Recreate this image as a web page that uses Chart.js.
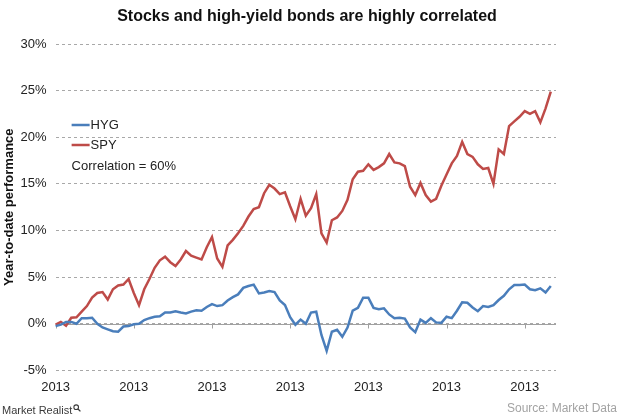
<!DOCTYPE html>
<html>
<head>
<meta charset="utf-8">
<script src="https://cdn.jsdelivr.net/npm/chart.js@4.4.1/dist/chart.umd.min.js"></script>
<style>
  body { margin: 0; background: #fff; }
  .wrap { position: relative; width: 620px; height: 420px; font-family: "Liberation Sans", Arial, sans-serif; }
  .title { position: absolute; left: 0; top: 6px; width: 614px; text-align: center; font-size: 16px; line-height: 20px; font-weight: bold; color: #111; }
  .brand { position: absolute; left: 2px; top: 404px; font-size: 11px; color: #3a3a3a; }
  .brand svg { vertical-align: top; margin-left: 1px; }
  .source { position: absolute; right: 3px; top: 401px; font-size: 12px; color: #a3a3a3; }
</style>
</head>
<body>
<div class="wrap">
  <canvas id="chart" width="620" height="420"></canvas>
  <div class="title">Stocks and high-yield bonds are highly correlated</div>
  <div class="brand">Market Realist<svg width="8" height="8" viewBox="0 0 8 8"><circle cx="3.2" cy="3.2" r="2.3" fill="none" stroke="#3a3a3a" stroke-width="1.1"/><line x1="5" y1="5" x2="7.4" y2="7.4" stroke="#3a3a3a" stroke-width="1.3"/></svg></div>
  <div class="source">Source: Market Data</div>
</div>
<script>
const tickLabel = '2013'
const pointsPerTick = 15
const yTicks = [-5, 0, 5, 10, 15, 20, 25, 30]

// year-to-date performance, %
const hyg = [
  -0.25, -0.1, 0.2, 0.2, 0.0, 0.6, 0.6, 0.65, 0.0, -0.4,
  -0.6, -0.8, -0.85, -0.3, -0.25, -0.05, 0.0, 0.4, 0.6, 0.75,
  0.8, 1.2, 1.2, 1.35, 1.2, 1.1, 1.3, 1.45, 1.4, 1.8,
  2.1, 1.9, 2.0, 2.5, 2.85, 3.15, 3.85, 4.05, 4.2, 3.25,
  3.35, 3.5, 3.4, 2.5, 2.0, 0.7, -0.1, 0.45, 0.0, 1.2,
  1.3, -1.2, -2.9, -0.85, -0.65, -1.4, -0.4, 1.4, 1.7, 2.8,
  2.8, 1.7, 1.55, 1.65, 1.0, 0.6, 0.65, 0.55, -0.4, -0.9,
  0.45, 0.1, 0.6, 0.15, 0.1, 0.75, 0.6, 1.4, 2.3, 2.25,
  1.75, 1.35, 1.9, 1.8, 2.0, 2.55, 3.0, 3.7, 4.15, 4.15,
  4.2, 3.7, 3.6, 3.8, 3.35, 4.05
]
const spy = [
  -0.1, 0.2, -0.2, 0.65, 0.7, 1.3, 1.9, 2.8, 3.3, 3.4,
  2.6, 3.7, 4.1, 4.2, 4.8, 3.3, 2.0, 3.7, 4.8, 6.0,
  6.8, 7.2, 6.6, 6.2, 6.9, 7.8, 7.3, 7.1, 6.9, 8.2,
  9.3, 7.0, 6.1, 8.4, 9.0, 9.7, 10.5, 11.5, 12.3, 12.5,
  14.0, 14.9, 14.5, 13.9, 14.1, 12.6, 11.2, 13.4, 11.6, 12.4,
  13.9, 9.7, 8.7, 11.1, 11.4, 12.1, 13.3, 15.5, 16.3, 16.4,
  17.1, 16.5, 16.8, 17.2, 18.2, 17.3, 17.2, 16.9, 14.7, 13.8,
  15.1, 13.8, 13.1, 13.4, 14.8, 16.0, 17.2, 18.0, 19.5, 18.2,
  17.9, 17.1, 16.6, 16.7, 15.0, 18.7, 18.2, 21.2, 21.7, 22.2,
  22.8, 22.5, 22.8, 21.6, 23.1, 24.9
]
// one extra empty slot so the axis runs a little past the last point
const days = spy.concat([null]).map((_, i) => i)

const blue = '#4a7ebb'
const red = '#be4b48'
const font = '"Liberation Sans", Arial, sans-serif'

const overlay = {
  id: 'overlay',
  beforeDatasetsDraw(chart) {
    const { ctx, chartArea: a, scales: { x, y } } = chart
    const y0 = Math.round(y.getPixelForValue(0)) + 0.5
    ctx.save()
    ctx.strokeStyle = '#a0a0a0'
    ctx.lineWidth = 1
    ctx.beginPath()
    ctx.moveTo(a.left, y0)
    ctx.lineTo(a.right, y0)
    x.ticks.forEach((t, i) => {
      const px = Math.round(x.getPixelForTick(i)) + 0.5
      ctx.moveTo(px, y0)
      ctx.lineTo(px, y0 + 4)
    })
    ctx.stroke()
    ctx.restore()
  },
  afterDraw(chart) {
    const { ctx, chartArea: a } = chart
    const lx = a.left + 16
    ctx.save()
    ctx.font = '13px ' + font
    ctx.textBaseline = 'middle'
    ctx.lineWidth = 2.5
    chart.data.datasets.forEach((ds, i) => {
      const ly = a.top + 81 + i * 20
      ctx.strokeStyle = ds.borderColor
      ctx.beginPath()
      ctx.moveTo(lx, ly)
      ctx.lineTo(lx + 18, ly)
      ctx.stroke()
      ctx.fillStyle = '#222'
      ctx.fillText(ds.label, lx + 19, ly)
    })
    ctx.fillText('Correlation = 60%', lx, a.top + 122)
    ctx.restore()
  }
}

new Chart(document.getElementById('chart'), {
  type: 'line',
  data: {
    labels: days,
    datasets: [
      { label: 'HYG', data: hyg, borderColor: blue, borderWidth: 2.5, pointRadius: 0, tension: 0 },
      { label: 'SPY', data: spy, borderColor: red, borderWidth: 2.5, pointRadius: 0, tension: 0 }
    ]
  },
  options: {
    responsive: false,
    devicePixelRatio: 1,
    animation: false,
    layout: { padding: { left: 0, right: 64, bottom: 16, top: 44 } },
    plugins: {
      legend: { display: false },
      tooltip: { enabled: false },
      title: { display: false }
    },
    scales: {
      x: {
        type: 'category',
        afterBuildTicks: axis => { axis.ticks = axis.ticks.filter(t => t.value % pointsPerTick === 0) },
        grid: { display: false, drawTicks: false },
        border: { display: false },
        ticks: {
          autoSkip: false,
          maxRotation: 0,
          padding: 9,
          color: '#222',
          font: { family: font, size: 13 },
          callback: () => tickLabel
        }
      },
      y: {
        min: yTicks[0],
        max: yTicks[yTicks.length - 1],
        afterBuildTicks: axis => { axis.ticks = yTicks.map(v => ({ value: v })) },
        grid: { color: '#a8a8a8', lineWidth: 1, drawTicks: false },
        border: { display: false, dash: [3, 3] },
        ticks: {
          padding: 9,
          color: '#222',
          font: { family: font, size: 13 },
          callback: v => v + '%'
        },
        title: {
          display: true,
          text: 'Year-to-date performance',
          color: '#111',
          font: { family: font, size: 13, weight: 'bold' },
          padding: { top: 2, bottom: -6 }
        }
      }
    }
  },
  plugins: [overlay]
})
</script>
</body>
</html>
